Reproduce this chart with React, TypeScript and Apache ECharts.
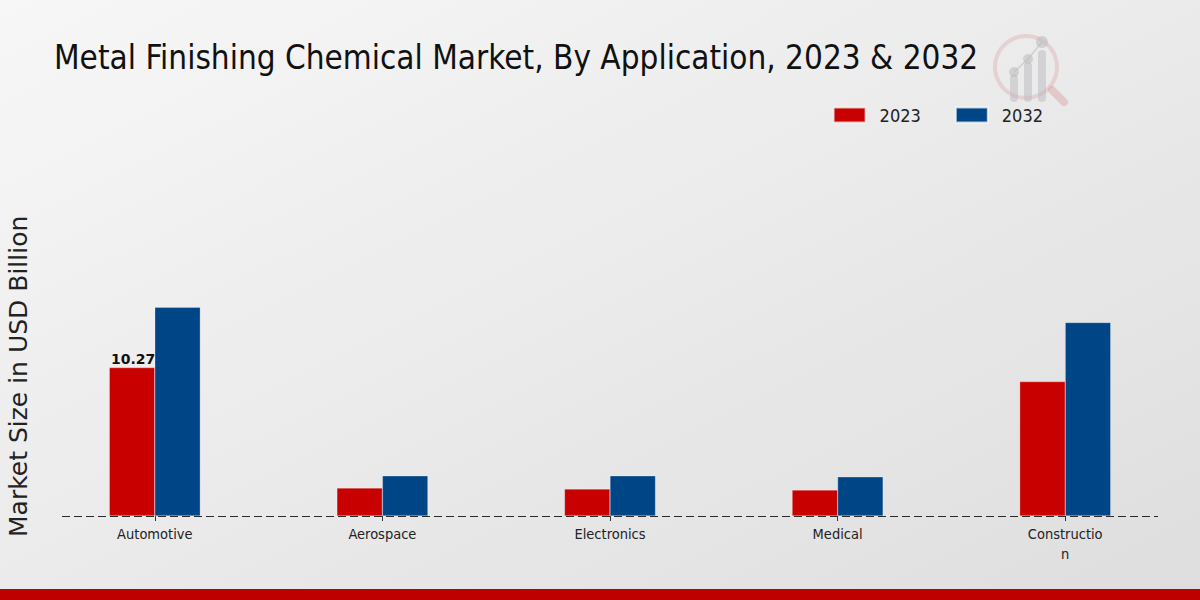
import React, { useEffect, useRef } from "react";
import * as echarts from "echarts";

const categories = ["Automotive", "Aerospace", "Electronics", "Medical", "Construction"];
const values2023 = [10.27, 1.94, 1.87, 1.8, 9.3];
const values2032 = [14.45, 2.78, 2.78, 2.71, 13.39];
const seriesNames = ["2023", "2032"];
const titleText = "Metal Finishing Chemical Market, By Application, 2023 & 2032";
const yAxisName = "Market Size in USD Billion";

const COND = "'DejaVu Sans Condensed', 'DejaVu Sans', sans-serif";
const RED = "#c80000";
const BLUE = "#004687";

export default function App() {
  const ref = useRef<HTMLDivElement>(null);
  useEffect(() => {
    document.body.style.margin = "0";
    const chart = echarts.init(ref.current!, null, { renderer: "svg" });
    chart.setOption({
      animation: false,
      backgroundColor: new echarts.graphic.LinearGradient(0, 0, 1, 1, [
        { offset: 0, color: "#f7f7f7" },
        { offset: 1, color: "#dedede" },
      ]),
      title: {
        text: titleText,
        left: 54,
        top: 41,
        padding: 0,
        textStyle: { fontFamily: COND, fontSize: 33, fontWeight: "normal", color: "#111" },
      },
      legend: {
        right: 152,
        top: 101,
        itemWidth: 32,
        itemHeight: 15,
        itemGap: 34,
        data: seriesNames,
        textStyle: { fontFamily: COND, fontSize: 18, color: "#222", padding: [0, 0, 0, 9] },
        icon: "rect",
      },
      grid: { left: 41, right: 21, top: 227, bottom: 84 },
      xAxis: {
        type: "category",
        data: categories,
        axisLine: { show: false },
        axisTick: { show: true, alignWithLabel: true, length: 5, lineStyle: { color: "#333" } },
        axisLabel: {
          fontFamily: COND,
          fontSize: 14.5,
          color: "#222",
          margin: 8,
          lineHeight: 20,
          formatter: (v: string) => (v === "Construction" ? "Constructio\nn" : v),
        },
      },
      yAxis: {
        type: "value",
        min: 0,
        max: 20,
        show: false,
        splitLine: { show: false },
      },
      series: [
        {
          name: seriesNames[0],
          type: "bar",
          data: values2023.map((v, i) => ({
            value: v,
            label: i === 0 ? { show: true } : { show: false },
          })),
          barWidth: 45.5,
          barGap: "0%",
          itemStyle: { color: RED, borderColor: "rgba(255,255,255,0.7)", borderWidth: 0.4 },
          label: {
            position: "top",
            distance: 2,
            offset: [1, 0],
            fontFamily: "'DejaVu Sans', sans-serif",
            fontWeight: "bold",
            fontSize: 14,
            color: "#111",
            formatter: (p: any) => String(p.value),
          },
        },
        {
          name: seriesNames[1],
          type: "bar",
          data: values2032,
          barWidth: 45.5,
          barGap: "0%",
          itemStyle: { color: BLUE, borderColor: "rgba(255,255,255,0.7)", borderWidth: 0.4 },
        },
      ],
      graphic: [
        {
          type: "text",
          rotation: Math.PI / 2,
          style: {
            text: yAxisName,
            fontFamily: "'DejaVu Sans', sans-serif",
            fontSize: 25,
            fill: "#222",
          },
          x: 6,
          y: 537,
          originX: 0,
          originY: 0,
        },
        {
          type: "line",
          shape: { x1: 62, y1: 516.5, x2: 1158, y2: 516.5 },
          style: { stroke: "#2a2a2a", lineWidth: 1, lineDash: [8, 4] },
          z: 10,
        },
        {
          type: "rect",
          shape: { x: 0, y: 589, width: 1200, height: 11 },
          style: { fill: "#bf0000" },
        },
        {
          type: "group",
          z: 0,
          children: [
            {
              type: "ring",
              shape: { cx: 1026, cy: 67, r: 33, r0: 29 },
              style: { fill: "rgba(215,150,150,0.3)" },
            },
            {
              type: "line",
              shape: { x1: 1052, y1: 90, x2: 1064, y2: 102 },
              style: { stroke: "rgba(215,150,150,0.4)", lineWidth: 8, lineCap: "round" },
            },
            { type: "rect", shape: { x: 1010, y: 74, width: 8, height: 28, r: 4 }, style: { fill: "rgba(185,185,190,0.5)" } },
            { type: "rect", shape: { x: 1024, y: 62, width: 8, height: 40, r: 4 }, style: { fill: "rgba(185,185,190,0.5)" } },
            { type: "rect", shape: { x: 1038, y: 50, width: 8, height: 52, r: 4 }, style: { fill: "rgba(185,185,190,0.5)" } },
            { type: "circle", shape: { cx: 1014, cy: 72, r: 5 }, style: { fill: "rgba(185,185,190,0.55)" } },
            { type: "circle", shape: { cx: 1028, cy: 59, r: 5 }, style: { fill: "rgba(185,185,190,0.55)" } },
            { type: "circle", shape: { cx: 1042, cy: 42, r: 6 }, style: { fill: "rgba(185,185,190,0.55)" } },
            {
              type: "polyline",
              shape: { points: [[1014, 72], [1028, 59], [1042, 42]] },
              style: { stroke: "rgba(185,185,190,0.55)", lineWidth: 1.5, fill: "none" },
            },
          ],
        },
      ],
    });
    return () => chart.dispose();
  }, []);
  return <div ref={ref} style={{ width: 1200, height: 600 }} />;
}
